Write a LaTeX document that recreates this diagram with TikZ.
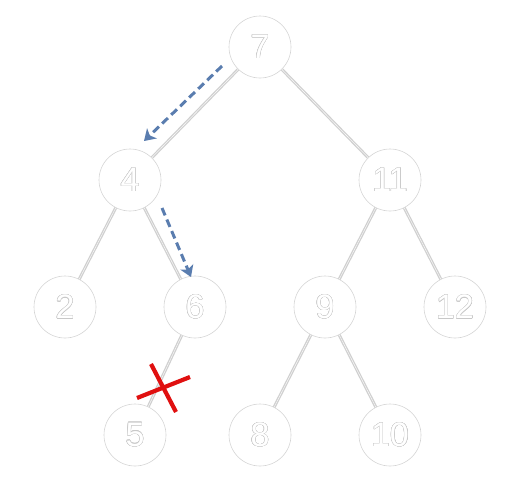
\documentclass[tikz,border=0pt]{standalone}
\usepackage{fontspec}
\setmainfont{Liberation Sans}
\usepackage{contour}
\usetikzlibrary{arrows.meta}
\definecolor{ringgray}{HTML}{D4D4D4}
\definecolor{textgray}{HTML}{C8C8C8}
\definecolor{edgegray}{HTML}{D0D0D0}
\definecolor{arrowblue}{HTML}{5A7DAF}
\definecolor{xred}{HTML}{E01010}
\contourlength{0.4pt}
\newcommand{\hollow}[1]{\contour{textgray}{\textcolor{white}{#1}}}
\tikzset{
  tnode/.style={circle, draw=ringgray, line width=0.6pt, minimum size=62pt, inner sep=0pt, font=\fontsize{34}{34}\selectfont},
  tedge/.style={draw=edgegray, line width=1.3pt, double=white, double distance=0.4pt},
  hint/.style={draw=arrowblue, line width=3pt, dash pattern=on 8pt off 4.5pt, -{Stealth[length=11pt,width=14pt,inset=3pt]}},
  cross/.style={draw=xred, line width=4.2pt}
}
\begin{document}
\begin{tikzpicture}[x=1pt,y=-1pt]
\useasboundingbox (0,0) rectangle (506,493);
\node[tnode] (n7) at (260,47) {\hollow{7}};
\node[tnode] (n4) at (130,180) {\hollow{4}};
\node[tnode] (n11) at (390,180) {\hollow{11}};
\node[tnode] (n2) at (65,307) {\hollow{2}};
\node[tnode] (n6) at (195,307) {\hollow{6}};
\node[tnode] (n9) at (325,307) {\hollow{9}};
\node[tnode] (n12) at (455,307) {\hollow{12}};
\node[tnode] (n5) at (135,435) {\hollow{5}};
\node[tnode] (n8) at (260,435) {\hollow{8}};
\node[tnode] (n10) at (390,435) {\hollow{10}};
\path[tedge] (n7) -- (n4);
\path[tedge] (n7) -- (n11);
\path[tedge] (n4) -- (n2);
\path[tedge] (n4) -- (n6);
\path[tedge] (n11) -- (n9);
\path[tedge] (n11) -- (n12);
\path[tedge] (n9) -- (n8);
\path[tedge] (n9) -- (n10);
\path[tedge] (n6) -- (n5);
\coordinate (a1s) at (222,66);
\coordinate (a1e) at (144,141);
\coordinate (a2s) at (162,208);
\coordinate (a2e) at (191,277);
\draw[hint] (a1s) -- (a1e);
\draw[hint] (a2s) -- (a2e);
\coordinate (x1a) at (151,364);
\coordinate (x1b) at (176,412);
\coordinate (x2a) at (137,398);
\coordinate (x2b) at (190,377);
\draw[cross] (x1a) -- (x1b);
\draw[cross] (x2a) -- (x2b);
\end{tikzpicture}
\end{document}
